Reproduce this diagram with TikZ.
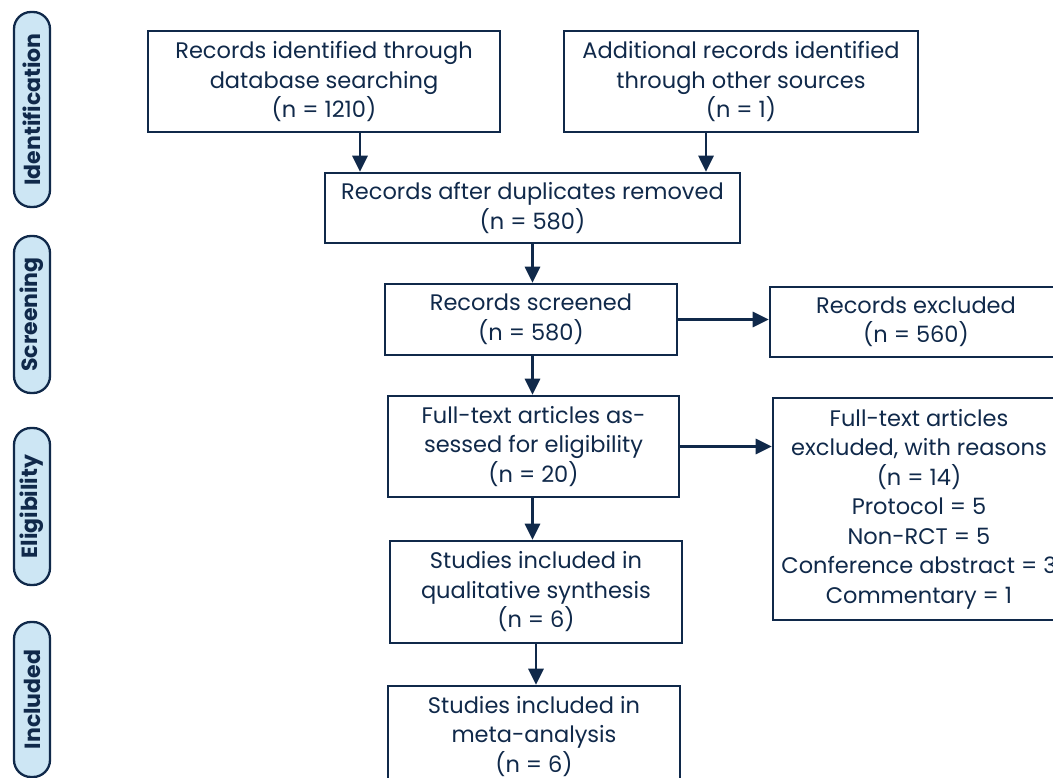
\documentclass[tikz,border=0pt]{standalone}
\usepackage{fontspec}
\setmainfont{Poppins}
\usetikzlibrary{arrows.meta}
\definecolor{navy}{HTML}{10294A}
\definecolor{pillfill}{HTML}{CDE6F4}
\tikzset{
  box/.style={draw=navy, line width=2.6pt, fill=white, text=navy, align=center, inner sep=0pt,
    font=\fontsize{22.5}{29.5}\selectfont},
  pill/.style={draw=navy, line width=2.3pt, fill=pillfill, text=navy, rounded corners=17pt,
    inner sep=0pt, rotate=90, minimum height=36pt, font=\fontsize{22}{24}\selectfont\bfseries},
  arr/.style={draw=navy, line width=2.8pt, -{Triangle[length=16pt,width=15pt]}}
}
\begin{document}
\begin{tikzpicture}[x=1pt,y=-1pt]
\useasboundingbox (0,0) rectangle (1053,778);
\clip (0,0) rectangle (1053,778);
\fill[white] (0,0) rectangle (1053,778);
% phase pills
\node[pill, minimum width=195pt] (p1) at (32,109.5) {Identification};
\node[pill, minimum width=157pt] (p2) at (32,314.5) {Screening};
\node[pill, minimum width=157pt] (p3) at (32,506.5) {Eligibility};
\node[pill, minimum width=155pt] (p4) at (32,699.5) {Included};
% boxes
\node[box, minimum width=352pt, minimum height=101pt] (b1) at (324,81.5)
  {Records identified through\\database searching\\(n = 1210)};
\node[box, minimum width=354pt, minimum height=101pt] (b2) at (741,81.5)
  {Additional records identified\\through other sources\\(n = 1)};
\node[box, minimum width=415pt, minimum height=70pt] (b3) at (532.5,208)
  {Records after duplicates removed\\(n = 580)};
\node[box, minimum width=292pt, minimum height=71pt] (b4) at (531,319.5)
  {Records screened\\(n = 580)};
\node[box, minimum width=292pt, minimum height=70pt] (e1) at (916,322)
  {Records excluded\\(n = 560)};
\node[box, minimum width=291pt, minimum height=101pt] (b5) at (533.5,446.5)
  {Full-text articles as-\\sessed for eligibility\\(n = 20)};
\node[box, minimum width=292pt, minimum height=222pt] (e2) at (919,509)
  {Full-text articles\\excluded, with reasons\\(n = 14)\\Protocol = 5\\Non-RCT = 5\\Conference abstract = 3\\Commentary = 1};
\node[box, minimum width=292pt, minimum height=102pt] (b6) at (536,592)
  {Studies included in\\qualitative synthesis\\(n = 6)};
\node[box, minimum width=292pt, minimum height=101pt] (b7) at (534,736.5)
  {Studies included in\\meta-analysis\\(n = 6)};
% connectors
\coordinate (c1) at (360,0);
\coordinate (c2) at (706,0);
\draw[arr] (b1.south -| c1) -- (b3.north -| c1);
\draw[arr] (b2.south -| c2) -- (b3.north -| c2);
\draw[arr] (b3.south) -- (b4.north -| b3.south);
\draw[arr] (b4.east) -- (e1.west |- b4.east);
\draw[arr] (b4.south -| b3.south) -- (b5.north -| b3.south);
\draw[arr] (b5.east) -- (e2.west |- b5.east);
\draw[arr] (b5.south -| b3.south) -- (b6.north -| b3.south);
\draw[arr] (b6.south) -- (b7.north -| b6.south);
\end{tikzpicture}
\end{document}
